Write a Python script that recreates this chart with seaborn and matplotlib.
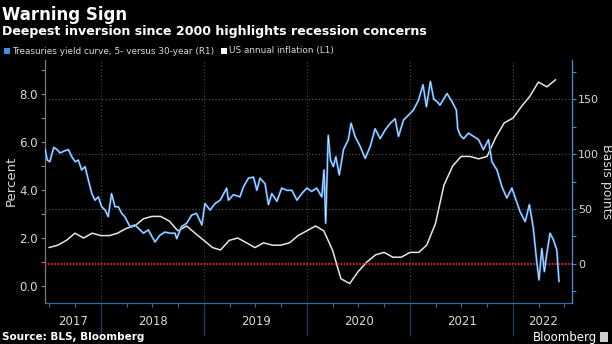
import matplotlib
matplotlib.use("Agg")
import matplotlib.pyplot as plt
import matplotlib.dates as mdates
from matplotlib.patches import Rectangle
from matplotlib.transforms import blended_transform_factory
import pandas as pd
import seaborn as sns

# US annual CPI inflation, % (month-end observations)
inflation_months = pd.date_range("2017-06-30", "2022-05-31", freq="ME")
inflation_pct = [1.6, 1.7, 1.9, 2.2, 2.0, 2.2, 2.1,
                 2.1, 2.2, 2.4, 2.5, 2.8, 2.9, 2.9, 2.7, 2.3, 2.5, 2.2, 1.9,
                 1.6, 1.5, 1.9, 2.0, 1.8, 1.6, 1.8, 1.7, 1.7, 1.8, 2.1, 2.3,
                 2.5, 2.3, 1.5, 0.3, 0.1, 0.6, 1.0, 1.3, 1.4, 1.2, 1.2, 1.4,
                 1.4, 1.7, 2.6, 4.2, 5.0, 5.4, 5.4, 5.3, 5.4, 6.2, 6.8, 7.0,
                 7.5, 7.9, 8.5, 8.3, 8.6]

# Treasuries 5s30s curve, basis points
curve_dates = ["2017-06-16", "2017-06-24", "2017-07-03", "2017-07-17", "2017-07-29", "2017-08-08",
               "2017-08-26", "2017-09-07", "2017-09-19", "2017-10-01", "2017-10-12", "2017-10-24",
               "2017-11-05", "2017-11-17", "2017-11-29", "2017-12-10", "2017-12-22", "2018-01-03",
               "2018-01-15", "2018-01-26", "2018-02-07", "2018-02-19", "2018-03-03", "2018-03-15",
               "2018-03-26", "2018-04-13", "2018-05-01", "2018-05-13", "2018-05-31", "2018-06-17",
               "2018-07-11", "2018-07-28", "2018-08-15", "2018-09-02", "2018-09-20", "2018-09-26",
               "2018-10-13", "2018-10-31", "2018-11-18", "2018-12-05", "2018-12-24", "2019-01-04",
               "2019-01-22", "2019-02-09", "2019-02-27", "2019-03-22", "2019-03-28", "2019-04-15",
               "2019-05-08", "2019-05-20", "2019-06-07", "2019-06-25", "2019-07-07", "2019-07-18",
               "2019-08-05", "2019-08-17", "2019-08-29", "2019-09-16", "2019-10-03", "2019-10-21",
               "2019-11-08", "2019-11-26", "2019-12-13", "2019-12-31", "2020-01-17", "2020-02-04",
               "2020-02-22", "2020-03-01", "2020-03-07", "2020-03-16", "2020-03-24", "2020-04-03",
               "2020-04-12", "2020-04-24", "2020-05-09", "2020-05-26", "2020-06-05", "2020-06-19",
               "2020-07-07", "2020-07-25", "2020-08-12", "2020-08-29", "2020-09-16", "2020-10-04",
               "2020-10-22", "2020-11-08", "2020-11-20", "2020-12-08", "2020-12-26", "2021-01-12",
               "2021-01-30", "2021-02-15", "2021-02-27", "2021-03-13", "2021-03-25", "2021-04-06",
               "2021-04-16", "2021-05-11", "2021-05-29", "2021-06-13", "2021-06-18", "2021-06-27",
               "2021-07-09", "2021-07-26", "2021-08-13", "2021-08-31", "2021-09-17", "2021-10-05",
               "2021-10-17", "2021-11-04", "2021-11-22", "2021-12-09", "2021-12-27", "2022-01-08",
               "2022-01-25", "2022-02-12", "2022-02-27", "2022-03-13", "2022-03-25", "2022-04-02",
               "2022-04-12", "2022-04-21", "2022-04-29", "2022-05-11", "2022-05-23", "2022-06-04",
               "2022-06-12"]
curve_bp = [105, 94.5, 93, 106, 104, 101,
            103, 104, 97.5, 93, 94.5, 85.5,
            88.5, 76, 64, 58, 61, 52,
            49, 43, 64, 52, 52, 46,
            43, 34, 35.5, 32.5, 28, 31,
            20, 26, 29, 28, 28, 23,
            34, 37, 44.5, 46, 35.5, 55,
            49, 55, 58, 69, 58, 63,
            61, 70, 78, 79, 67, 78,
            73, 54, 64, 57, 69, 67,
            67, 58, 64, 69, 66, 69,
            61, 85.5, 37, 117, 94.5, 88.5,
            97.5, 81, 104, 113, 128, 116,
            107, 96, 107, 123, 114, 122,
            128, 132, 116, 131, 135.5, 140,
            149, 163, 143, 166, 150, 147.5,
            144.5, 155, 147.5, 140, 123, 117,
            114, 119, 116, 113, 104, 113,
            93, 85.5, 70, 60, 69, 60,
            47.5, 38.5, 54, 32.5, 2, -14.5,
            14, -7, 8, 28, 22, 13,
            -16]

pct_ticks = [0, 2, 4, 6, 8]
bp_ticks = [0, 50, 100, 150]
years = [2017, 2018, 2019, 2020, 2021, 2022]

BLUE = "#3d8fe0"
TEXT = "#d8d8d8"

sns.set_theme(style="dark", rc={"axes.facecolor": "black", "figure.facecolor": "black",
                                "savefig.facecolor": "black"})
plt.rcParams["font.family"] = ["DejaVu Sans"]

fig = plt.figure(figsize=(6.12, 3.44), dpi=100)
ax = fig.add_axes([45 / 612, 41 / 344, 527 / 612, 243 / 344])
ax2 = ax.twinx()

curve = pd.DataFrame({"date": pd.to_datetime(curve_dates), "bp": curve_bp})
infl = pd.DataFrame({"date": inflation_months, "pct": inflation_pct})

x0, x1 = pd.Timestamp("2017-06-16"), pd.Timestamp("2022-07-28")

# Inflation on the left (percent) axis
sns.lineplot(data=infl, x="date", y="pct", ax=ax, color="#e6e6e6", lw=1.1, zorder=3)
ax.set_ylim(-0.71, 9.42)
ax.set_xlim(x0, x1)

# Yield curve on the right (basis points) axis
ax2.axhline(0, color="#e0202c", lw=1.6, ls=(0, (0.7, 0.7)), zorder=1)
sns.lineplot(data=curve, x="date", y="bp", ax=ax2, color=BLUE, lw=1.5, zorder=3)
sns.lineplot(data=curve, x="date", y="bp", ax=ax2, color="#f2f6ff", lw=0.45, zorder=4)
ax2.set_ylim(-35.5, 185.5)
ax2.set_xlim(x0, x1)

# Grid: dotted horizontal at bp ticks, dotted vertical at year starts
for v in bp_ticks[1:]:
    ax2.axhline(v, color="#5a5a5a", lw=0.8, ls=(0, (1, 2)), zorder=0)
year_starts = [pd.Timestamp(f"{y}-01-01") for y in years[1:]]
for d in year_starts:
    ax.axvline(d, color="#4a4a4a", lw=0.8, ls=(0, (1, 2)), zorder=0)

# Left axis
ax.set_yticks(pct_ticks)
ax.set_yticklabels([f"{v:.1f}" for v in pct_ticks])
ax.set_yticks([1, 3, 5, 7, 9], minor=True)
ax.tick_params(axis="y", which="both", left=True, length=3, width=0.8, color="#8a8a8a",
               labelcolor=TEXT, labelsize=8.5, pad=2)
ax.set_ylabel("")

# Right axis
ax2.set_yticks(bp_ticks)
ax2.set_yticklabels([str(v) for v in bp_ticks])
ax2.set_yticks([-25, 25, 75, 125, 175], minor=True)
ax2.tick_params(axis="y", which="both", right=True, length=3, width=0.8, color=BLUE,
                labelcolor=TEXT, labelsize=8, pad=1.5)
ax2.set_ylabel("")

# Axis titles placed in the figure margins
fig.text(11 / 612, 1 - 181 / 344, "Percent", color=TEXT, fontsize=9.5, rotation=90,
         ha="center", va="center")
fig.text(606 / 612, 1 - 182 / 344, "Basis points", color=TEXT, fontsize=9, rotation=270,
         ha="center", va="center")

# Bottom axis: long separators at year starts, quarterly minor ticks, centred year labels
ax.set_xticks(year_starts)
ax.set_xticklabels([""] * len(year_starts))
ax.xaxis.set_minor_locator(mdates.MonthLocator(bymonth=[1, 4, 7, 10]))
ax.tick_params(axis="x", which="major", bottom=True, length=24, width=0.9, color="#1f3f6a")
ax.tick_params(axis="x", which="minor", bottom=True, length=3, width=0.8, color="#2d6aa8")
ax.grid(False)
ax2.grid(False)

trans = blended_transform_factory(ax.transData, ax.transAxes)
for y in years:
    a = max(pd.Timestamp(f"{y}-01-01"), x0)
    b = min(pd.Timestamp(f"{y + 1}-01-01"), x1)
    mid = a + (b - a) / 2
    ax.text(mid, -0.078, str(y), transform=trans, ha="center", va="center",
            color=TEXT, fontsize=8.5)

for s in ["top"]:
    ax.spines[s].set_visible(False)
    ax2.spines[s].set_visible(False)
ax.spines["left"].set_color("#7a7a7a")
ax2.spines["left"].set_visible(False)
ax2.spines["right"].set_color(BLUE)
ax.spines["right"].set_visible(False)
ax.spines["bottom"].set_color("#2d6aa8")
ax2.spines["bottom"].set_visible(False)
for s in ax.spines.values():
    s.set_linewidth(0.9)
ax2.spines["right"].set_linewidth(0.9)
ax.set_xlabel("")
ax2.set_xlabel("")

# Titles, legend, footer
fig.text(0.004, 1 - 15 / 344, "Warning Sign", color="white", fontsize=12, fontweight="bold",
         va="center", ha="left")
fig.text(0.004, 1 - 31 / 344, "Deepest inversion since 2000 highlights recession concerns",
         color="white", fontsize=9.1, fontweight="bold", va="center", ha="left")

fig.patches.append(Rectangle((4 / 612, 1 - 54 / 344), 6 / 612, 6 / 344, transform=fig.transFigure,
                             facecolor=BLUE, edgecolor="none"))
fig.text(12 / 612, 1 - 51 / 344, "Treasuries yield curve, 5- versus 30-year (R1)", color=TEXT,
         fontsize=6.4, va="center", ha="left")
fig.patches.append(Rectangle((221 / 612, 1 - 54 / 344), 6 / 612, 6 / 344, transform=fig.transFigure,
                             facecolor="white", edgecolor="none"))
fig.text(229 / 612, 1 - 51 / 344, "US annual inflation (L1)", color=TEXT,
         fontsize=6.4, va="center", ha="left")

fig.text(0.004, 1 - 337 / 344, "Source: BLS, Bloomberg", color="white", fontsize=7.5,
         fontweight="bold", va="center", ha="left")
fig.text(597 / 612, 1 - 337 / 344, "Bloomberg", color="white", fontsize=8.5,
         va="center", ha="right")
fig.patches.append(Rectangle((600 / 612, 1 - 342 / 344), 8 / 612, 10 / 344, transform=fig.transFigure,
                             facecolor="#cfcfcf", edgecolor="none"))

fig.savefig("out.png", dpi=100, facecolor="black")
